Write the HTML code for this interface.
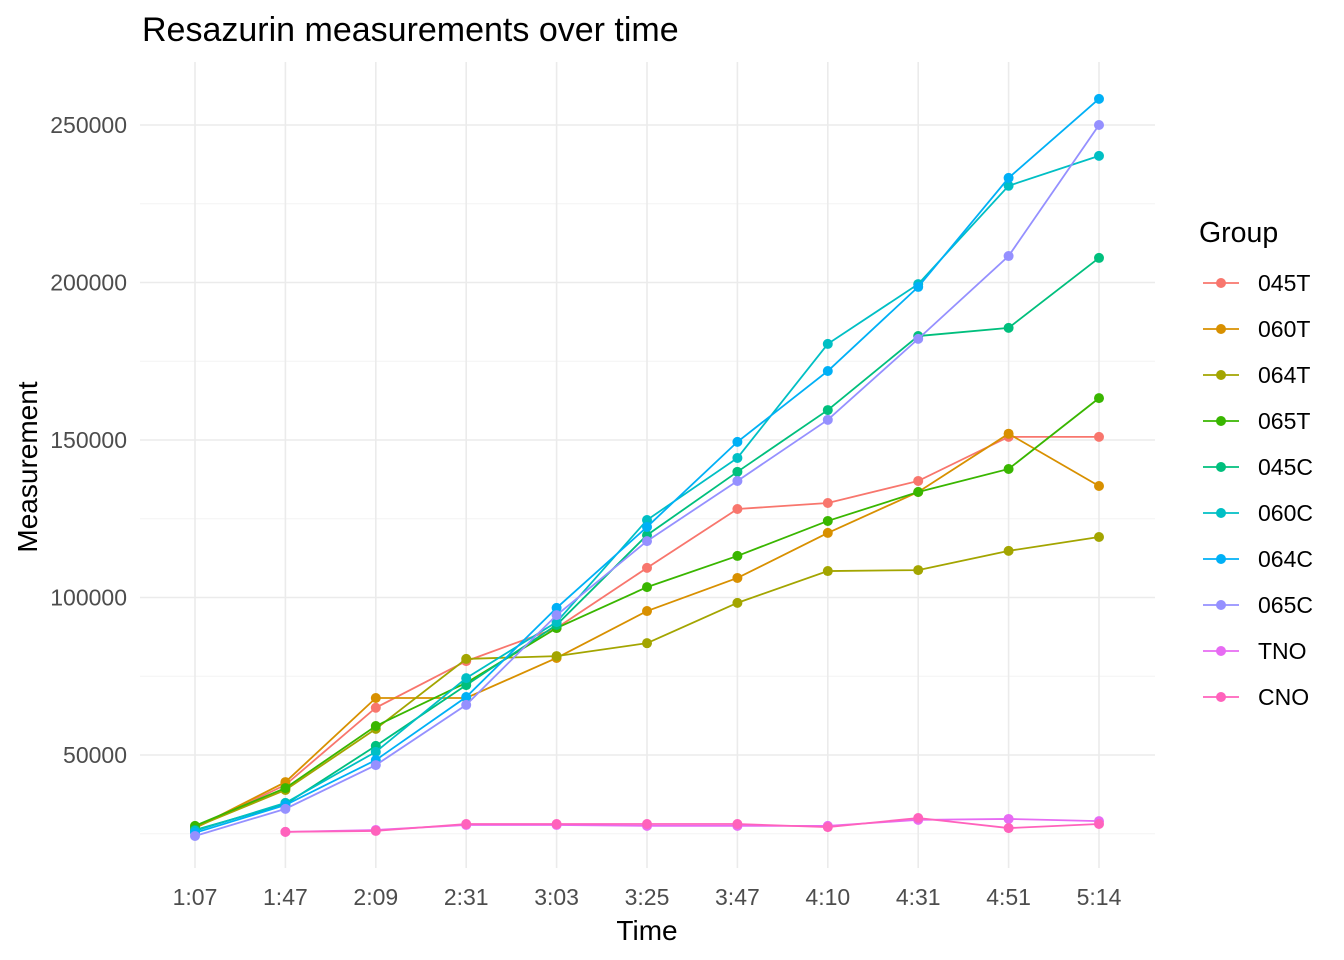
<!DOCTYPE html>
<html><head><meta charset="utf-8"><style>
body{margin:0;background:#fff;}
svg{display:block;font-family:"Liberation Sans",Arial,sans-serif;}
</style></head><body>
<svg id="chart" width="1344" height="960" viewBox="0 0 1344 960">
<rect width="1344" height="960" fill="#fff"/>
<text x="142" y="41" font-size="34" fill="#000">Resazurin measurements over time</text>
<text x="647" y="940" font-size="28" text-anchor="middle" fill="#000">Time</text>
<text transform="translate(37,467) rotate(-90)" font-size="28" text-anchor="middle" fill="#000">Measurement</text>
<g id="grid"></g>
<g id="series"></g>
<g id="axes"></g>
<g id="legend">
<text x="1199" y="242" font-size="28.5" fill="#000">Group</text>
</g>
</svg>
<script>
const categories = ["1:07","1:47","2:09","2:31","3:03","3:25","3:47","4:10","4:31","4:51","5:14"];
const groups = ["045T","060T","064T","065T","045C","060C","064C","065C","TNO","CNO"];
const colors = ["#F8766D","#D89000","#A3A500","#39B600","#00BF7D","#00BFC4","#00B0F6","#9590FF","#E76BF3","#FF62BC"];
const yTicks = [50000,100000,150000,200000,250000];
const s045T = [26800,40500,65000,79800,90300,109400,128100,130000,137000,151000,151000];
const s060T = [26800,41400,68100,68100,80800,95700,106200,120500,133500,152000,135400];
const s064T = [27100,38900,58300,80500,81400,85500,98300,108400,108700,114800,119200];
const s065T = [27500,39500,59200,72900,90300,103300,113200,124300,133500,140800,163300];
const s045C = [26200,34400,52900,72200,91300,119800,139900,159500,183000,185600,207800];
const s060C = [25900,34800,51000,74400,92200,124600,144300,180500,199500,230700,240200];
const s064C = [25300,34100,48400,68400,96700,122400,149400,171900,198600,233200,258300];
const s065C = [24300,32900,46800,65900,94400,117900,137000,156400,182100,208400,250000];
const sTNO = [null,25600,26200,27800,27800,27500,27500,27500,29400,29700,29000];
const sCNO = [null,25600,25900,28100,28100,28100,28100,27100,30000,26800,28100];
const allSeries = [s045T,s060T,s064T,s065T,s045C,s060C,s064C,s065C,sTNO,sCNO];

const NS="http://www.w3.org/2000/svg";
function xs(i){return 195+i*90.4;}
function ys(v){return 755-(v-50000)/50000*157.5;}
function mk(tag,attrs,parent){const e=document.createElementNS(NS,tag);for(const k in attrs)e.setAttribute(k,attrs[k]);parent.appendChild(e);return e;}
const grid=document.getElementById('grid'),ser=document.getElementById('series'),axes=document.getElementById('axes'),leg=document.getElementById('legend');
const L=140,R=1155,T=62,B=868;
for(let v=25000;v<=275000;v+=25000){const y=ys(v);if(y<T||y>B)continue;
 const major=v%50000===0;
 const g=mk('line',{x1:L,x2:R,y1:y,y2:y,stroke:major?'#ebebeb':'#f3f3f3','stroke-width':major?1.6:1},grid);
 
 }
categories.forEach((c,i)=>{const x=xs(i);
 const g=mk('line',{x1:x,x2:x,y1:T,y2:B,stroke:'#ebebeb','stroke-width':1.6},grid);
 
 
 const t=mk('text',{x:x,y:905,'font-size':23,'text-anchor':'middle',fill:'#4d4d4d'},axes);t.textContent=c;
 
 });
yTicks.forEach(v=>{const t=mk('text',{x:127,y:ys(v)+8,'font-size':23,'text-anchor':'end',fill:'#4d4d4d'},axes);t.textContent=v;
 
 });
allSeries.forEach((s,k)=>{const g=mk('g',{},ser);
 
 
 let d='';s.forEach((v,i)=>{if(v==null)return;d+=(d?'L':'M')+xs(i)+','+ys(v);});
 const p=mk('path',{d:d,fill:'none',stroke:colors[k],'stroke-width':1.8},g);
 
 
 s.forEach((v,i)=>{if(v==null)return;const c=mk('circle',{cx:xs(i),cy:ys(v),r:5,fill:colors[k]},g);
  
  });});
groups.forEach((gname,k)=>{const y=283+k*46;const g=mk('g',{},leg);
 
 
 mk('line',{x1:1203,x2:1239,y1:y,y2:y,stroke:colors[k],'stroke-width':1.8},g);
 mk('circle',{cx:1221,cy:y,r:5,fill:colors[k]},g);
 const t=mk('text',{x:1258,y:y+8,'font-size':23,fill:'#000'},g);t.textContent=gname;});
</script>
</body></html>
